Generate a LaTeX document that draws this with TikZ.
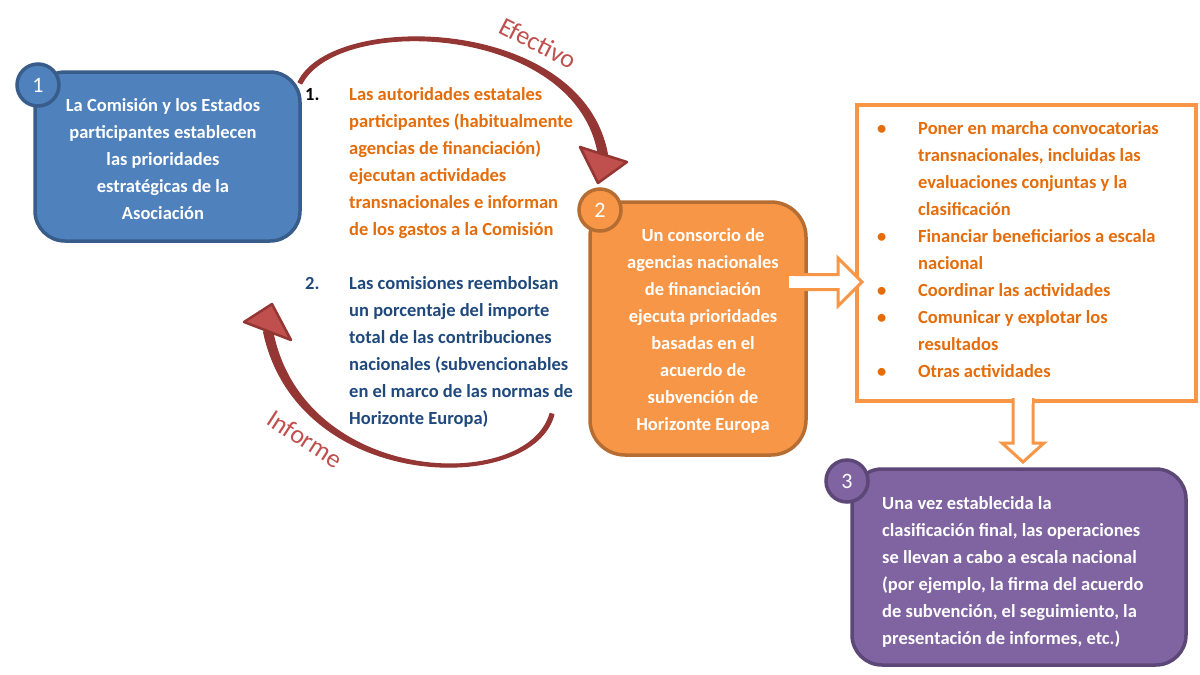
\documentclass[tikz,border=0pt]{standalone}
\usepackage{fontspec}
\setmainfont{Carlito}
\usetikzlibrary{calc}
\definecolor{bluefill}{HTML}{4F81BD}
\definecolor{blueline}{HTML}{385D8A}
\definecolor{orfill}{HTML}{F79646}
\definecolor{orline}{HTML}{B66D31}
\definecolor{purfill}{HTML}{8064A2}
\definecolor{purline}{HTML}{5C4776}
\definecolor{ortext}{HTML}{E46C0A}
\definecolor{dbtext}{HTML}{1F497D}
\definecolor{arrred}{HTML}{943634}
\definecolor{headred}{HTML}{C0504D}
\begin{document}
\begin{tikzpicture}[x=1pt,y=-1pt,
  box/.style={draw, line width=3.5pt, inner sep=0pt},
  num/.style={circle, draw, line width=3.5pt, minimum size=42pt, inner sep=0pt, text=white, font=\fontsize{22}{22}\selectfont},
  body/.style={font=\fontsize{18.5}{27}\selectfont\bfseries, inner sep=0pt},
  hollow/.style={draw=orfill, fill=white, line width=3pt, line join=miter},
  curve/.style={fill=arrred, draw=arrred, line width=1.2pt, line join=round},
  curvehead/.style={fill=headred, draw=arrred, line width=2.5pt, line join=round},
  curvelabel/.style={text=headred, font=\fontsize{26}{26}\selectfont, inner sep=0pt}]
\useasboundingbox[fill=white] (0,0) rectangle (1200,675);

% boxes
\node[box, fill=bluefill, draw=blueline, rounded corners=30pt, minimum width=265pt, minimum height=169pt] (b1) at (167.5,156.5) {};
\node[box, fill=orfill, draw=orline, rounded corners=35pt, minimum width=216pt, minimum height=253pt] (b2) at (698,328.5) {};
\node[box, draw=orfill, line width=4pt, fill=white, minimum width=339pt, minimum height=296pt] (lst) at (1026.5,253) {};
\node[box, fill=purfill, draw=purline, rounded corners=30pt, minimum width=334pt, minimum height=196pt] (b3) at (1019,567) {};

% number circles
\node[num, fill=bluefill, draw=blueline] (c1) at (38,85) {1};
\node[num, fill=orfill, draw=orline] (c2) at (600,210) {2};
\node[num, fill=purfill, draw=purline] (c3) at (847,481) {3};

% texts
\node[body, text=white, align=center] (t1) at (163,159) {La Comisión y los Estados\\participantes establecen\\las prioridades\\estratégicas de la\\Asociación};
\node[body, text=white, align=center] (t2) at (703,331) {Un consorcio de\\agencias nacionales\\de financiación\\ejecuta prioridades\\basadas en el\\acuerdo de\\subvención de\\Horizonte Europa};
\node[body, text=white, align=left, anchor=west] (t3) at (882,571.5) {Una vez establecida la\\clasificación final, las operaciones\\se llevan a cabo a escala nacional\\(por ejemplo, la firma del acuerdo\\de subvención, el seguimiento, la\\presentación de informes, etc.)};
\node[body, text=ortext, align=left, anchor=west] (s1) at (349,163.5) {\llap{\makebox[44pt][l]{\color{black}1.}}Las autoridades estatales\\participantes (habitualmente\\agencias de financiación)\\ejecutan actividades\\transnacionales e informan\\de los gastos a la Comisión};
\node[body, text=dbtext, align=left, anchor=west] (s2) at (349,351.5) {\llap{\makebox[44pt][l]{2.}}Las comisiones reembolsan\\un porcentaje del importe\\total de las contribuciones\\nacionales (subvencionables\\en el marco de las normas de\\Horizonte Europa)};
\node[body, text=ortext, align=left, anchor=west] (tl) at (918,250) {\llap{\makebox[41pt][l]{\textbullet}}Poner en marcha convocatorias\\transnacionales, incluidas las\\evaluaciones conjuntas y la\\clasificación\\\llap{\makebox[41pt][l]{\textbullet}}Financiar beneficiarios a escala\\nacional\\\llap{\makebox[41pt][l]{\textbullet}}Coordinar las actividades\\\llap{\makebox[41pt][l]{\textbullet}}Comunicar y explotar los\\resultados\\\llap{\makebox[41pt][l]{\textbullet}}Otras actividades};

% hollow block arrows
\draw[hollow] (792,274.5) -- (838,274.5) -- (838,258) -- (862,282) -- (838,306) -- (838,289.5) -- (792,289.5);
\fill[white] (789,276) rectangle (794,288);
\draw[hollow] (1013,398) -- (1013,443) -- (1002,443) -- (1023,462) -- (1044,443) -- (1033,443) -- (1033,398);
\fill[white] (1014.5,396) rectangle (1031.5,404);

% curved arrows (tapered)
\coordinate (e0) at (300,83);
\coordinate (e1) at (603,155);
\filldraw[curve] (298.2,82.1) .. controls (332.3,10.7) and (581.9,16.5) .. (607.4,154.2)
  -- (598.6,155.8) .. controls (578.1,23.5) and (337.7,13.3) .. (301.8,83.9) -- cycle;
\filldraw[curvehead] (580,147) -- (627,162) -- (598,183) -- cycle;
\node[curvelabel, rotate=-27] (eft) at (538,43) {Efectivo};

\coordinate (i0) at (552,414);
\coordinate (i1) at (268,331);
\filldraw[curve] (553.9,414.5) .. controls (532.9,495.8) and (297.9,493.4) .. (263.6,331.9)
  -- (272.4,330.1) .. controls (302.1,486.6) and (527.1,494.2) .. (550.1,413.5) -- cycle;
\filldraw[curvehead] (244,322) -- (272,304) -- (291,340) -- cycle;
\node[curvelabel, rotate=-33] (inf) at (305,439) {Informe};
\end{tikzpicture}
\end{document}
